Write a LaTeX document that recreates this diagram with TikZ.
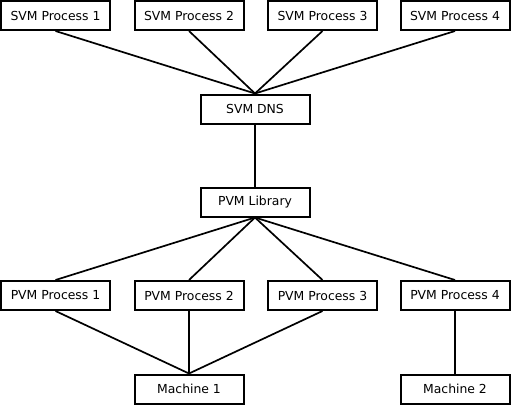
\documentclass[tikz,border=0pt]{standalone}
\usepackage{fontspec}
\setmainfont{DejaVu Sans}
\begin{document}
\begin{tikzpicture}[x=1pt,y=-1pt,
  box/.style={draw=black,line width=2pt,minimum width=109pt,minimum height=29pt,inner sep=0pt,font=\fontsize{12.4}{14}\selectfont},
  link/.style={line width=1.7pt}]
\useasboundingbox (0,0) rectangle (511,405);
\node[box] (s1) at (55.5,15.5) {SVM Process 1};
\node[box] (s2) at (189,15.5) {SVM Process 2};
\node[box] (s3) at (322.5,15.5) {SVM Process 3};
\node[box] (s4) at (455,15.5) {SVM Process 4};
\node[box] (dns) at (255,109) {SVM DNS};
\node[box] (lib) at (255,202) {PVM Library};
\node[box] (p1) at (55.5,295.5) {PVM Process 1};
\node[box] (p2) at (189,295.5) {PVM Process 2};
\node[box] (p3) at (322.5,295.5) {PVM Process 3};
\node[box] (p4) at (455,295.5) {PVM Process 4};
\node[box] (m1) at (189,389) {Machine 1};
\node[box] (m2) at (455,389) {Machine 2};
\foreach \n in {s1,s2,s3,s4} \draw[link] (\n.south) -- (dns.north);
\draw[link,line width=2pt] (dns.south) -- (lib.north);
\foreach \n in {p1,p2,p3,p4} \draw[link] (lib.south) -- (\n.north);
\foreach \n in {p1,p2,p3} \draw[link] (\n.south) -- (m1.north);
\draw[link,line width=2pt] (p4.south) -- (m2.north);
\end{tikzpicture}
\end{document}
